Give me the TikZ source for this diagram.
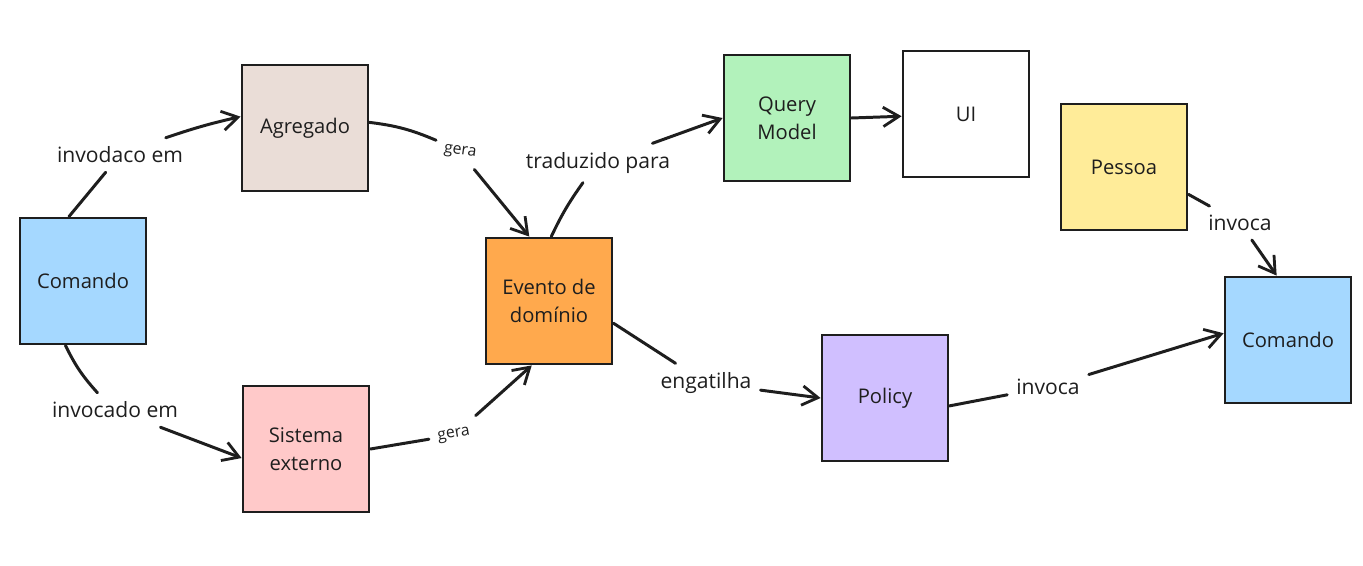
\documentclass[tikz,border=0pt]{standalone}
\usepackage{fontspec}
\setmainfont{Open Sans}
\usetikzlibrary{arrows.meta}
\definecolor{cblue}{HTML}{A5D8FF}
\definecolor{cagg}{HTML}{EADDD7}
\definecolor{cpink}{HTML}{FFC9C9}
\definecolor{corange}{HTML}{FFA94D}
\definecolor{cgreen}{HTML}{B2F2BB}
\definecolor{cyellow}{HTML}{FFEC99}
\definecolor{cviolet}{HTML}{D0BFFF}
\definecolor{ink}{HTML}{1E1E1E}
\tikzset{
  card/.style={draw=ink, line width=1.6pt, minimum width=2.52cm, minimum height=2.52cm,
    align=center, font=\fontsize{11.5}{16}\selectfont, text=ink, inner sep=2pt},
  lab/.style={font=\fontsize{12}{15}\selectfont, text=ink, inner sep=5pt},
  smalllab/.style={font=\fontsize{9}{11}\selectfont, text=ink, inner sep=5pt},
  conn/.style={draw=ink, line width=1.7pt, line cap=round},
  arr/.style={conn, -{Straight Barb[length=9pt,width=11pt,line width=1.6pt]}},
}
\begin{document}
\begin{tikzpicture}[x=0.02cm, y=-0.02cm]
\useasboundingbox (0,0) rectangle (1363,565);
% cards
\node[card, fill=cblue]   (comL) at (83,281)  {Comando};
\node[card, fill=cagg]    (agg)  at (305,128) {Agregado};
\node[card, fill=cpink]   (sis)  at (306,449) {Sistema\\externo};
\node[card, fill=corange] (evt)  at (549,301) {Evento de\\domínio};
\node[card, fill=cgreen]  (qm)   at (787,118) {Query\\Model};
\node[card, fill=white]   (ui)   at (966,114) {UI};
\node[card, fill=cyellow] (pes)  at (1124,167) {Pessoa};
\node[card, fill=cviolet] (pol)  at (885,398) {Policy};
\node[card, fill=cblue]   (comR) at (1288,340) {Comando};
% labels
\node[lab] (l1) at (120,155) {invodaco em};
\node[lab] (l2) at (115,410) {invocado em};
\node[smalllab, rotate=-8] (l3) at (460,152) {gera};
\node[smalllab, rotate=10] (l4) at (454,435) {gera};
\node[lab] (l5) at (598,163) {traduzido para};
\node[lab] (l6) at (706,383) {engatilha};
\node[lab] (l7) at (1048,387) {invoca};
\node[lab] (l8) at (1240,223) {invoca};
% connectors
\draw[conn] ([xshift=-8]comL.north) -- (l1);
\draw[arr] (l1) to[bend left=3] (agg.170);
\draw[conn] ([xshift=-10]comL.south) to[bend right=8] (l2);
\draw[arr] (l2) -- (sis.188);
\draw[conn] (agg.5) to[bend left=8] (l3);
\draw[arr] (l3) -- (evt.107);
\draw[conn] (sis.east) -- (l4);
\draw[arr] (l4) -- (evt.255);
\draw[conn] (evt.88) to[bend left=5] (l5);
\draw[arr] (l5) -- (qm.west);
\draw[arr] (qm.east) -- (ui.182);
\draw[conn] (evt.341) -- (l6);
\draw[arr] (l6) -- (pol.west);
\draw[conn] (pol.353) -- (l7);
\draw[arr] (l7) -- (comR.174);
\draw[conn] (pes.337) -- (l8);
\draw[arr] (l8) -- (comR.100);
\end{tikzpicture}
\end{document}
